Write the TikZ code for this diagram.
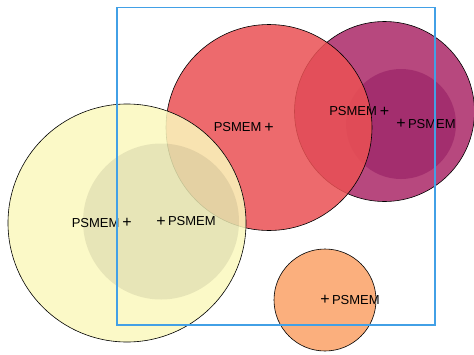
\documentclass[tikz,border=0pt]{standalone}
\usepackage{fontspec}
\setmainfont{Liberation Sans}
\usetikzlibrary{positioning}
\definecolor{setred}{RGB}{235,81,84}
\definecolor{setpurple}{RGB}{171,40,104}
\definecolor{setdeep}{RGB}{150,30,100}
\definecolor{setyellow}{RGB}{251,249,190}
\definecolor{setorange}{RGB}{251,162,103}
\definecolor{framblue}{RGB}{66,160,230}
\tikzset{
  bubble/.style={draw=black, line width=0.6pt, fill opacity=0.85},
  inner/.style={fill opacity=#1},
  centremark/.style={inner sep=0pt, font=\fontsize{16}{16}\selectfont},
  tag/.style={inner sep=0pt, font=\fontsize{13}{13}\selectfont},
}
\begin{document}
\begin{tikzpicture}[x=1pt,y=-1pt]
  \useasboundingbox (0,0) rectangle (474,354);
  \fill[white] (0,0) rectangle (474,354);
  % sets
  \draw[bubble, fill=setpurple] (384.5,111.5) circle (90pt);
  \fill[setdeep, inner=0.6] (401,124) circle (55pt);
  \draw[bubble, fill=setred] (269,127.5) circle (103pt);
  \draw[bubble, fill=setyellow] (127,223) circle (119pt);
  \fill[black, inner=0.08] (161,221.5) circle (78pt);
  \draw[bubble, fill=setorange] (325,300) circle (51pt);
  % centres and labels
  \node[centremark] (purplec) at (384.5,111.5) {+};
  \node[tag, left=2.5pt of purplec] (purplel) {PSMEM};
  \node[centremark] (deepc) at (401,124) {+};
  \node[tag, right=2pt of deepc] (deepl) {PSMEM};
  \node[centremark] (redc) at (269,127.5) {+};
  \node[tag, left=2.5pt of redc] (redl) {PSMEM};
  \node[centremark] (yellowc) at (127,223) {+};
  \node[tag, left=2.5pt of yellowc] (yellowl) {PSMEM};
  \node[centremark] (grayc) at (161,221.5) {+};
  \node[tag, right=2pt of grayc] (grayl) {PSMEM};
  \node[centremark] (orangec) at (325,300) {+};
  \node[tag, right=2pt of orangec] (orangel) {PSMEM};
  % frame
  \draw[framblue, line width=1.6pt] (116.7,7.3) rectangle (435,325);
\end{tikzpicture}
\end{document}
